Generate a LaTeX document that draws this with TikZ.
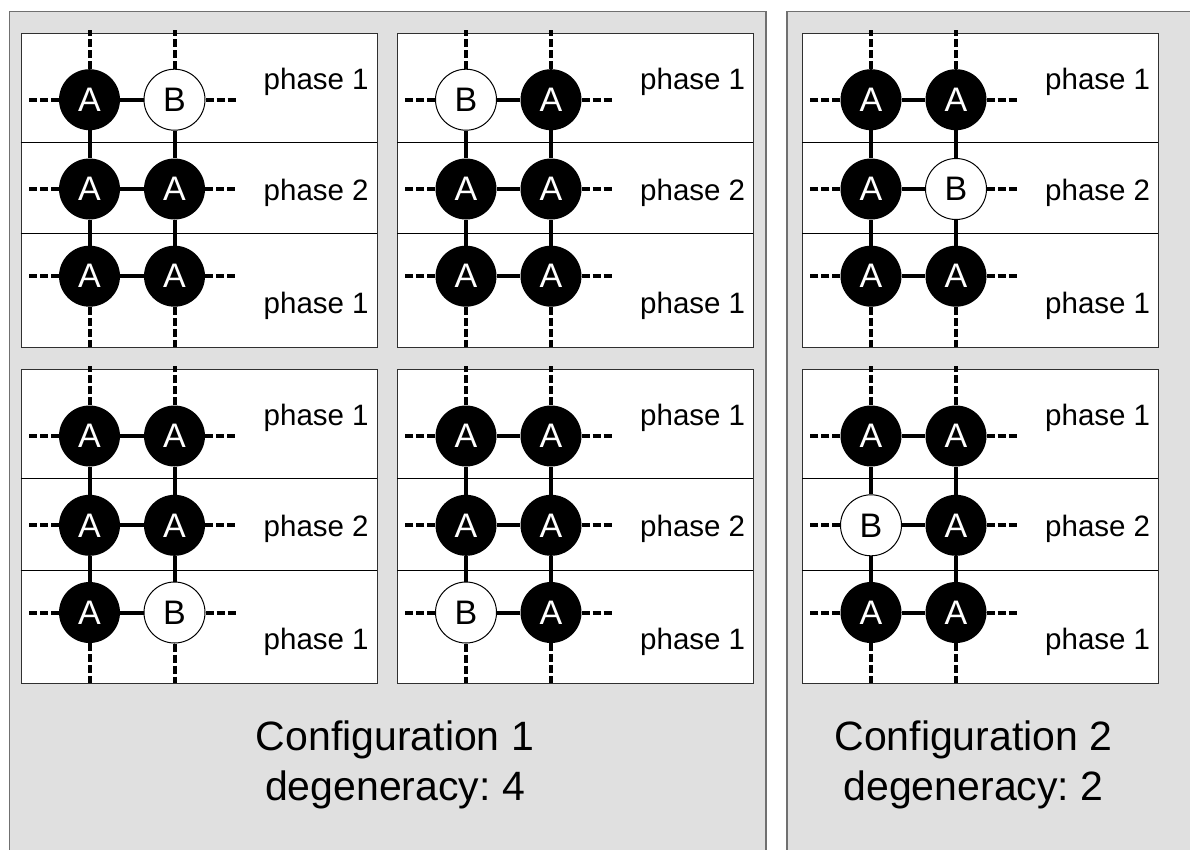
\documentclass[tikz,border=0pt]{standalone}
\usepackage{fontspec}
\setmainfont{Liberation Sans}
\frenchspacing
\definecolor{panelgray}{HTML}{E0E0E0}
\definecolor{panelline}{HTML}{707070}
\definecolor{boxline}{HTML}{303030}

\tikzset{
  panel/.style={fill=panelgray, draw=panelline, line width=1.5pt},
  cellbox/.style={draw=boxline, fill=white, line width=1.3pt, minimum width=356pt,
    minimum height=314pt, inner sep=0pt, anchor=north west},
  divider/.style={draw=black, line width=1pt},
  sitefont/.style={font=\fontsize{34}{34}\selectfont},
  siteA/.style={circle, fill=black, text=white, minimum size=61pt, inner sep=0pt, sitefont},
  siteB/.style={circle, fill=white, draw=black, line width=1pt, text=black,
    minimum size=61pt, inner sep=0pt, sitefont},
  link/.style={line width=4pt},
  stub/.style={line width=4pt, dash pattern=on 8pt off 3pt},
  phase/.style={anchor=base west, inner sep=0pt, font=\fontsize{29.5}{30}\selectfont},
  caption/.style={anchor=base, inner sep=0pt, font=\fontsize{41}{41}\selectfont},
}

% #1 name prefix, #2/#3 top-left corner, #4..#9 site types row by row
\newcommand\lattice[9]{%
  \begin{scope}[shift={(#2,#3)}]
    \node[cellbox] (#1) at (0,0) {};
    \draw[divider] (0,109.5) -- (356,109.5);
    \draw[divider] (0,201) -- (356,201);
    % sites
    \node[site#4] (#1a) at (69,67) {#4};
    \node[site#5] (#1b) at (154,67) {#5};
    \node[site#6] (#1c) at (69,156.3) {#6};
    \node[site#7] (#1d) at (154,156.3) {#7};
    \node[site#8] (#1e) at (69,243.5) {#8};
    \node[site#9] (#1f) at (154,243.5) {#9};
    % bonds inside the cell
    \draw[link] (#1a) -- (#1b);
    \draw[link] (#1c) -- (#1d);
    \draw[link] (#1e) -- (#1f);
    \draw[link] (#1a) -- (#1c) -- (#1e);
    \draw[link] (#1b) -- (#1d) -- (#1f);
    % bonds leaving the cell
    \coordinate (#1aw) at (5.5,67);
    \coordinate (#1cw) at (5.5,156.3);
    \coordinate (#1ew) at (5.5,243.5);
    \coordinate (#1be) at (217.5,67);
    \coordinate (#1de) at (217.5,156.3);
    \coordinate (#1fe) at (217.5,243.5);
    \coordinate (#1an) at (69,-3);
    \coordinate (#1bn) at (154,-3);
    \coordinate (#1es) at (69,314);
    \coordinate (#1fs) at (154,314);
    \draw[stub] (#1a.west) -- (#1aw);
    \draw[stub] (#1c.west) -- (#1cw);
    \draw[stub] (#1e.west) -- (#1ew);
    \draw[stub] (#1b.east) -- (#1be);
    \draw[stub] (#1d.east) -- (#1de);
    \draw[stub] (#1f.east) -- (#1fe);
    \draw[stub] (#1a.north) -- (#1an);
    \draw[stub] (#1b.north) -- (#1bn);
    \draw[stub] (#1e.south) -- (#1es);
    \draw[stub] (#1f.south) -- (#1fs);
    % phase labels
    \node[phase] (#1p1) at (243,56.5) {phase 1};
    \node[phase] (#1p2) at (243,167.5) {phase 2};
    \node[phase] (#1p3) at (243,280.5) {phase 1};
  \end{scope}}

\begin{document}
\begin{tikzpicture}[x=1pt, y=-1pt]
  \clip (0,0) rectangle (1190,849);
  \fill[white] (0,0) rectangle (1190,849);
  % background panels
  \draw[panel] (9.5,11.7) rectangle (766,870);
  \draw[panel] (787,11.7) rectangle (1210,870);
  % configuration 1
  \lattice{tl}{20.5}{32.7}{A}{B}{A}{A}{A}{A}
  \lattice{tm}{397}{32.7}{B}{A}{A}{A}{A}{A}
  \lattice{bl}{20.5}{369}{A}{A}{A}{A}{A}{B}
  \lattice{bm}{397}{369}{A}{A}{A}{A}{B}{A}
  % configuration 2
  \lattice{tr}{802}{32.7}{A}{A}{A}{B}{A}{A}
  \lattice{br}{802}{369}{A}{A}{B}{A}{A}{A}
  % captions
  \node[caption] (conf1) at (395,750) {Configuration 1};
  \node[caption] (deg1) at (395,800) {degeneracy: 4};
  \node[caption] (conf2) at (973.5,750) {Configuration 2};
  \node[caption] (deg2) at (973.5,800) {degeneracy: 2};
\end{tikzpicture}
\end{document}
